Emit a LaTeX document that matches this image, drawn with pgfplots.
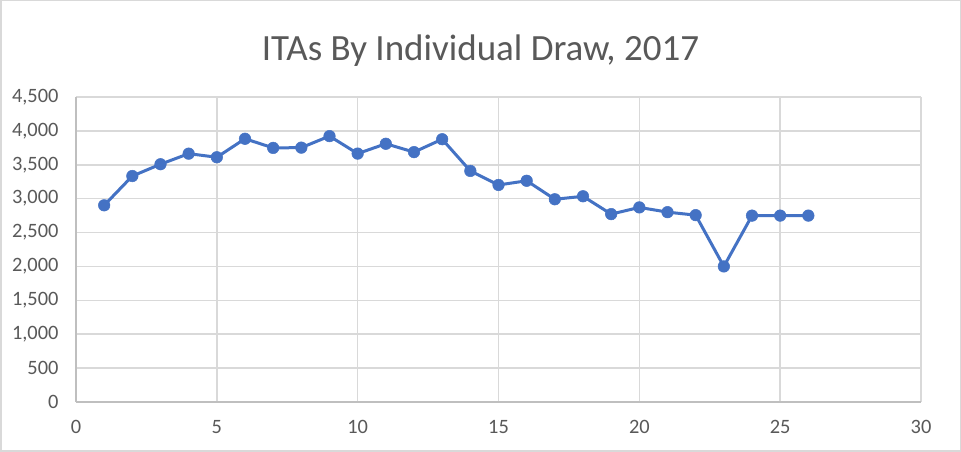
\documentclass[border=0pt]{standalone}
\usepackage{fontspec}
\setmainfont{Carlito}
\usepackage{pgfplots}
\pgfplotsset{compat=1.18}
\definecolor{ser}{HTML}{4472C4}
\definecolor{txt}{HTML}{595959}
\definecolor{gridc}{HTML}{D9D9D9}
\definecolor{axc}{HTML}{BFBFBF}
\begin{document}
\begin{tikzpicture}[x=1pt,y=1pt]
\fill[white] (0,0) rectangle (961,452);
\draw[gridc, line width=1.5pt] (0.75,0.75) rectangle (960.25,451.25);
\useasboundingbox (0,0) rectangle (961,452);
\node[txt, font=\fontsize{37}{44}\selectfont, anchor=base] at (480.5,391) {ITAs By Individual Draw, 2017};
\begin{axis}[
  at={(76pt,50pt)}, anchor=south west,
  scale only axis, width=845pt, height=305pt,
  xmin=0, xmax=30, ymin=0, ymax=4500,
  xtick={0,5,...,30}, ytick={0,500,...,4500},
  grid=major,
  major grid style={draw=gridc, line width=1.5pt},
  axis lines*=left,
  axis line style={-, draw=axc, line width=2pt},
  tick style={draw=none},
  ticklabel style={txt, font=\fontsize{20.4}{24}\selectfont},
  yticklabel style={xshift=-14pt},
  xticklabel style={yshift=-15pt},
  /pgf/number format/.cd, 1000 sep={,}, assume math mode=true,
]
\addplot[ser, line width=3pt, mark=*, mark size=5.8pt, mark options={fill=ser, draw=ser, line width=0.5pt}] coordinates {
(1,2902) (2,3334) (3,3508) (4,3664) (5,3611) (6,3884) (7,3749) (8,3753) (9,3923)
(10,3665) (11,3810) (12,3687) (13,3877) (14,3409) (15,3202) (16,3264) (17,2991)
(18,3035) (19,2772) (20,2871) (21,2801) (22,2757) (23,2000) (24,2750) (25,2750) (26,2750)
};
\end{axis}
\end{tikzpicture}
\end{document}
